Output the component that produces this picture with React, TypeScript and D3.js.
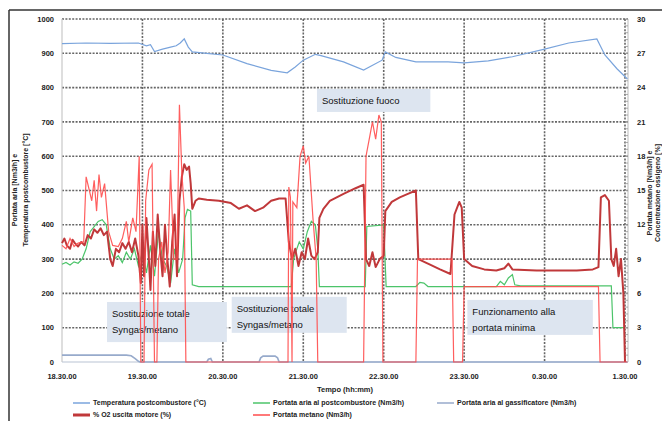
import React from "react";
import * as d3 from "d3";

// ---------- DATA ----------
const timeTicks = [18.5, 19.5, 20.5, 21.5, 22.5, 23.5, 24.5, 25.5];
const timeLabels = ["18.30.00", "19.30.00", "20.30.00", "21.30.00", "22.30.00", "23.30.00", "0.30.00", "1.30.00"];
const leftTicks = [0, 100, 200, 300, 400, 500, 600, 700, 800, 900, 1000];
const rightTicks = [0, 3, 6, 9, 12, 15, 18, 21, 24, 27, 30];

// Temperatura postcombustore (°C) - left axis
const tempPostcomb: [number, number][] = [
  [18.5, 928], [18.8, 930], [19.1, 929], [19.45, 930], [19.55, 922], [19.6, 925], [19.65, 905],
  [19.75, 912], [19.85, 918], [19.92, 922], [19.97, 930], [20.02, 942], [20.07, 918], [20.12, 904],
  [20.3, 900], [20.5, 895], [20.8, 870], [21.1, 850], [21.3, 843], [21.4, 860], [21.5, 880],
  [21.65, 897], [21.72, 893], [22.0, 875], [22.25, 851], [22.48, 880], [22.52, 904], [22.65, 888],
  [22.9, 875], [23.3, 875], [23.5, 872], [23.8, 878], [24.1, 890], [24.5, 912], [24.8, 930],
  [25.15, 942], [25.25, 895], [25.4, 855], [25.53, 825],
];

// Portata aria al postcombustore (Nm3/h) - left axis
const ariaPostcomb: [number, number][] = [
  [18.5, 285], [18.55, 290], [18.6, 283], [18.65, 292], [18.7, 288], [18.75, 300], [18.8, 330],
  [18.85, 380], [18.9, 395], [18.95, 410], [19.0, 415], [19.05, 400], [19.1, 330], [19.15, 300],
  [19.2, 310], [19.25, 290], [19.3, 320], [19.35, 300], [19.4, 330], [19.45, 280], [19.5, 320],
  [19.55, 260], [19.6, 340], [19.65, 250], [19.7, 380], [19.75, 300], [19.8, 280], [19.85, 230],
  [19.9, 330], [19.95, 260], [20.0, 300], [20.03, 420], [20.06, 445], [20.1, 440], [20.12, 225],
  [20.2, 220], [21.35, 220], [21.38, 300], [21.42, 330], [21.45, 350], [21.5, 330], [21.55, 380],
  [21.6, 410], [21.65, 400], [21.68, 330], [21.7, 220], [22.27, 220], [22.29, 395], [22.5, 400],
  [22.53, 220], [22.9, 220], [22.95, 232], [23.0, 230], [23.05, 220], [23.9, 220], [23.95, 235],
  [24.0, 225], [24.05, 245], [24.1, 255], [24.13, 225], [24.2, 222], [25.33, 222], [25.35, 100],
  [25.5, 100],
];

// Portata aria al gassificatore (Nm3/h) - left axis
const ariaGassif: [number, number][] = [
  [18.5, 20], [19.3, 20], [19.36, 18], [19.41, 10], [19.45, 2], [19.47, 0], [20.3, 0], [20.32, 8],
  [20.35, 10], [20.37, 0], [20.95, 0], [20.97, 12], [21.0, 17], [21.15, 17], [21.18, 12],
  [21.2, 0], [25.53, 0],
];

// % O2 (%) - right axis
const o2: [number, number][] = [
  [18.5, 10.4], [18.53, 10.8], [18.56, 10.2], [18.6, 9.9], [18.63, 10.7], [18.66, 10.4], [18.7, 10.1],
  [18.74, 10.5], [18.78, 10.2], [18.82, 11.1], [18.86, 10.8], [18.9, 11.6], [18.94, 11.3],
  [18.98, 11.7], [19.02, 11.1], [19.06, 11.4], [19.1, 9.0], [19.13, 8.4], [19.17, 9.9], [19.21, 9.6],
  [19.25, 10.4], [19.29, 9.9], [19.33, 10.5], [19.37, 9.6], [19.41, 10.8], [19.45, 9.3], [19.48, 6.9],
  [19.5, 12.0], [19.52, 7.5], [19.55, 12.6], [19.58, 9.0], [19.6, 6.3], [19.63, 11.4], [19.66, 8.4],
  [19.69, 12.9], [19.72, 9.9], [19.75, 7.5], [19.78, 12.0], [19.81, 9.0], [19.84, 6.6], [19.87, 10.5],
  [19.9, 12.9], [19.93, 7.5], [19.96, 14.1], [19.99, 16.2], [20.02, 17.3], [20.05, 16.8], [20.08, 17.1],
  [20.1, 15.6], [20.12, 13.4], [20.16, 14.1], [20.2, 14.3], [20.3, 14.2], [20.45, 14.1], [20.6, 13.9],
  [20.7, 13.4], [20.8, 13.7], [20.9, 13.2], [21.0, 13.5], [21.1, 14.1], [21.2, 14.3], [21.28, 14.3],
  [21.32, 10.5], [21.36, 9.0], [21.4, 9.9], [21.44, 8.4], [21.48, 9.6], [21.52, 9.0], [21.56, 10.8],
  [21.6, 9.3], [21.64, 9.0], [21.68, 9.6], [21.7, 12.6], [21.75, 13.4], [21.83, 14.1], [22.0, 14.7],
  [22.15, 15.2], [22.25, 15.5], [22.28, 9.0], [22.32, 8.4], [22.36, 9.6], [22.4, 8.3], [22.45, 9.0],
  [22.5, 9.3], [22.52, 13.2], [22.6, 14.0], [22.7, 14.4], [22.8, 14.7], [22.9, 15.0], [22.93, 9.0],
  [23.05, 8.6], [23.2, 8.1], [23.33, 7.7], [23.38, 12.9], [23.44, 14.0], [23.47, 13.5], [23.5, 9.0],
  [23.6, 8.4], [23.75, 8.1], [23.9, 8.0], [24.0, 8.2], [24.05, 8.6], [24.1, 8.1], [24.4, 8.0],
  [24.7, 8.0], [24.9, 8.0], [25.1, 8.1], [25.17, 8.3], [25.2, 14.4], [25.25, 14.6], [25.3, 14.1],
  [25.33, 9.0], [25.36, 8.4], [25.39, 9.9], [25.42, 7.5], [25.45, 9.0], [25.48, 6.0], [25.5, 0],
];

// Portata metano (Nm3/h) - right axis
const metano: [number, number][] = [
  [18.5, 10.2], [18.55, 9.9], [18.6, 10.8], [18.65, 10.1], [18.7, 10.4], [18.77, 10.5], [18.8, 16.2],
  [18.84, 15.0], [18.87, 14.1], [18.9, 15.9], [18.93, 13.2], [18.96, 16.4], [18.99, 14.4], [19.03, 15.6],
  [19.08, 11.4], [19.13, 10.2], [19.2, 10.1], [19.25, 10.8], [19.3, 12.3], [19.33, 10.5], [19.38, 12.6],
  [19.42, 11.4], [19.46, 18.0], [19.48, 0], [19.52, 0], [19.54, 14.1], [19.58, 16.8], [19.62, 17.3],
  [19.65, 0], [19.68, 0], [19.7, 9.0], [19.74, 10.5], [19.78, 7.8], [19.82, 9.6], [19.85, 16.8],
  [19.89, 9.0], [19.93, 9.0], [19.96, 22.5], [19.99, 16.5], [20.02, 13.5], [20.04, 0], [21.31, 0],
  [21.32, 15.3], [21.34, 14.4], [21.36, 0], [21.37, 14.0], [21.42, 13.5], [21.46, 18.0], [21.5, 18.9],
  [21.53, 17.4], [21.57, 18.0], [21.62, 12.6], [21.66, 9.0], [21.68, 0], [22.25, 0], [22.28, 18.0],
  [22.32, 19.5], [22.36, 21.0], [22.4, 19.5], [22.44, 21.6], [22.47, 21.0], [22.49, 0], [22.9, 0],
  [22.92, 9.0], [23.35, 9.0], [23.37, 0], [23.48, 0], [23.5, 6.6], [25.17, 6.6], [25.19, 0], [25.53, 0],
];

const legendRow1 = [
  "Temperatura postcombustore  (°C)",
  "Portata aria al postcombustore  (Nm3/h)",
  "Portata aria al gassificatore  (Nm3/h)",
];
const legendRow2 = ["% O2 uscita motore (%)", "Portata metano (Nm3/h)"];

// annotations: [h0, h1, vTop, vBottom] in data units (left axis)
const annotations = [
  { lines: ["Sostituzione totale", "Syngas/metano"], h0: 19.06, h1: 20.55, vTop: 175, vBot: 58 },
  { lines: ["Sostituzione totale", "Syngas/metano"], h0: 20.61, h1: 22.04, vTop: 190, vBot: 85 },
  { lines: ["Sostituzione fuoco"], h0: 21.67, h1: 23.08, vTop: 796, vBot: 729 },
  { lines: ["Funzionamento alla", "portata minima"], h0: 23.54, h1: 25.1, vTop: 181, vBot: 79 },
];

// ---------- CHART ----------
const W = 662;
const H = 421;

export default function App() {
  const x = d3.scaleLinear().domain([18.5, 25.5]).range([62, 625]);
  const yL = d3.scaleLinear().domain([0, 1000]).range([362, 19]);
  const yR = d3.scaleLinear().domain([0, 30]).range([362, 19]);
  const plotRight = 628;

  const lineL = d3.line<[number, number]>().x((d) => x(d[0])).y((d) => yL(d[1]));
  const lineR = d3.line<[number, number]>().x((d) => x(d[0])).y((d) => yR(d[1]));

  const grid = "#666";
  const font = "'Liberation Sans', Arial, sans-serif";

  const legendX = [73, 253, 437];
  const colors = {
    temp: "#7aa4dc",
    aria: "#4cc46a",
    gas: "#97aacb",
    o2: "#c0383a",
    metano: "#ff4d4d",
  };

  return (
    <svg width={W} height={H} style={{ position: "absolute", left: 0, top: 0, background: "#fff" }} fontFamily={font}>
      {/* frame */}
      <line x1={9} y1={10} x2={W} y2={10} stroke="#333" strokeWidth={1.5} />
      <line x1={9} y1={10} x2={9} y2={H} stroke="#333" strokeWidth={1.5} />

      {/* horizontal grid */}
      {leftTicks.filter((t) => t > 0).map((t) => (
        <line key={"hg" + t} x1={62} x2={plotRight} y1={yL(t)} y2={yL(t)} stroke={grid} strokeWidth={1.6} strokeDasharray="2,1.4" />
      ))}
      {/* vertical grid */}
      {timeTicks.filter((t) => t > 18.5).map((t) => (
        <line key={"vg" + t} x1={x(t)} x2={x(t)} y1={yL(1000)} y2={yL(0)} stroke={grid} strokeWidth={1.6} strokeDasharray="2,1.4" />
      ))}
      {/* right axis minor ticks */}
      <line x1={plotRight} x2={plotRight} y1={yR(30)} y2={yR(0)} stroke="#bbb" strokeWidth={1} />
      {d3.range(0, 30.01, 0.6).map((v) => (
        <line key={"rm" + v} x1={plotRight - 3} x2={plotRight} y1={yR(v)} y2={yR(v)} stroke="#999" strokeWidth={0.8} />
      ))}

      {/* axes lines */}
      <line x1={62} x2={62} y1={yL(1000)} y2={yL(0)} stroke="#c8c8c8" strokeWidth={1.2} />
      <line x1={62} x2={plotRight} y1={yL(0)} y2={yL(0)} stroke="#b9c3d3" strokeWidth={1.2} />

      {/* annotation boxes */}
      {annotations.map((a, i) => (
        <g key={"an" + i}>
          <rect x={x(a.h0)} y={yL(a.vTop)} width={x(a.h1) - x(a.h0)} height={yL(a.vBot) - yL(a.vTop)} fill="#dde5f0" />
          {a.lines.map((l, j) => (
            <text key={j} x={x(a.h0) + 5} y={yL(a.vTop) + (a.lines.length === 1 ? 15 : 15 + j * 16)} fontSize={9.5} fill="#111">
              {l}
            </text>
          ))}
        </g>
      ))}

      {/* series */}
      <path d={lineL(tempPostcomb) || ""} fill="none" stroke={colors.temp} strokeWidth={1.2} />
      <path d={lineL(ariaGassif) || ""} fill="none" stroke={colors.gas} strokeWidth={1.6} />
      <path d={lineL(ariaPostcomb) || ""} fill="none" stroke={colors.aria} strokeWidth={1.2} />
      <path d={lineR(o2) || ""} fill="none" stroke={colors.o2} strokeWidth={2} strokeLinejoin="round" />
      <path d={lineR(metano) || ""} fill="none" stroke={colors.metano} strokeWidth={1.2} opacity={0.9} />

      {/* left axis labels */}
      {leftTicks.map((t) => (
        <text key={"lt" + t} x={54} y={yL(t)} dy="0.35em" textAnchor="end" fontSize={7.5} fontWeight="bold" fill="#222">
          {t}
        </text>
      ))}
      {/* right axis labels */}
      {rightTicks.map((t) => (
        <text key={"rt" + t} x={637} y={yR(t)} dy="0.35em" textAnchor="start" fontSize={7.5} fontWeight="bold" fill="#222">
          {t}
        </text>
      ))}
      {/* x labels */}
      {timeTicks.map((t, i) => (
        <text key={"xt" + t} x={x(t)} y={376} dy="0.35em" textAnchor="middle" fontSize={7.5} fontWeight="bold" fill="#222">
          {timeLabels[i]}
        </text>
      ))}

      {/* axis titles */}
      <text x={345} y={389} dy="0.35em" textAnchor="middle" fontSize={7.5} fontWeight="bold" fill="#222">
        Tempo (hh:mm)
      </text>
      <g transform="translate(15,190) rotate(-90)">
        <text textAnchor="middle" dy="0.35em" fontSize={7} fontWeight="bold" fill="#222">Portata aria [Nm3/h] e</text>
      </g>
      <g transform="translate(26,190) rotate(-90)">
        <text textAnchor="middle" dy="0.35em" fontSize={7} fontWeight="bold" fill="#222">Temperatura postcombustore [°C]</text>
      </g>
      <g transform="translate(650,193) rotate(-90)">
        <text textAnchor="middle" dy="0.35em" fontSize={7} fontWeight="bold" fill="#222">Portata metano [Nm3/h] e</text>
      </g>
      <g transform="translate(658,193) rotate(-90)">
        <text textAnchor="middle" dy="0.35em" fontSize={7} fontWeight="bold" fill="#222">Concentrazione ossigeno [%]</text>
      </g>

      {/* legend */}
      {legendRow1.map((l, i) => {
        const c = [colors.temp, colors.aria, colors.gas][i];
        return (
          <g key={"lg1" + i}>
            <line x1={legendX[i]} x2={legendX[i] + 17} y1={403} y2={403} stroke={c} strokeWidth={1.5} />
            <text x={legendX[i] + 20} y={403} dy="0.35em" fontSize={7} fontWeight="bold" fill="#222">{l}</text>
          </g>
        );
      })}
      {legendRow2.map((l, i) => {
        const c = [colors.o2, colors.metano][i];
        return (
          <g key={"lg2" + i}>
            <line x1={legendX[i]} x2={legendX[i] + 17} y1={415} y2={415} stroke={c} strokeWidth={i === 0 ? 3 : 1.5} />
            <text x={legendX[i] + 20} y={415} dy="0.35em" fontSize={7} fontWeight="bold" fill="#222">{l}</text>
          </g>
        );
      })}
    </svg>
  );
}
